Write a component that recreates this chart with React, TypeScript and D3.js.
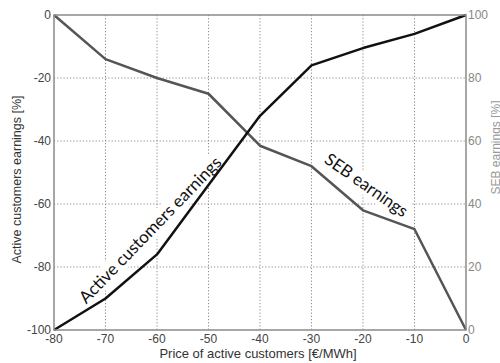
import React, { useEffect, useRef } from 'react';
import * as d3 from 'd3';

// x categories: price of active customers [€/MWh]
const prices = [-80, -70, -60, -50, -40, -30, -20, -10, 0];
// left axis: active customers earnings [%]
const activeEarnings = [-100, -90, -76, -54, -32, -16, -10.5, -6, 0];
// right axis: SEB earnings [%]
const sebEarnings = [100, 86, 80, 75, 58.5, 52, 38, 32, 0];

const xTicks = [-80, -70, -60, -50, -40, -30, -20, -10, 0];
const leftTicks = [0, -20, -40, -60, -80, -100];
const rightTicks = [100, 80, 60, 40, 20, 0];

const W = 500;
const H = 363;
const margin = { top: 15, right: 34, bottom: 33, left: 54 };

const App = () => {
  const ref = useRef<SVGSVGElement>(null);

  useEffect(() => {
    const svg = d3.select(ref.current);
    svg.selectAll('*').remove();

    const x = d3.scaleLinear().domain([-80, 0]).range([margin.left, W - margin.right]);
    const yL = d3.scaleLinear().domain([-100, 0]).range([H - margin.bottom, margin.top]);
    const yR = d3.scaleLinear().domain([0, 100]).range([H - margin.bottom, margin.top]);

    const axisFont = "'Liberation Sans', Arial, sans-serif";
    const frame = '#8a8a8a';

    svg.append('rect').attr('width', W).attr('height', H).attr('fill', '#fff');

    // grid
    const grid = svg.append('g').attr('stroke', '#8c8c8c').attr('stroke-width', 1)
      .attr('stroke-dasharray', '1.2,2');
    grid.selectAll('line.v')
      .data(xTicks.slice(1, -1))
      .enter().append('line')
      .attr('x1', (d) => x(d)).attr('x2', (d) => x(d))
      .attr('y1', yL(0)).attr('y2', yL(-100));
    grid.selectAll('line.h')
      .data(leftTicks.slice(1, -1))
      .enter().append('line')
      .attr('x1', x(-80)).attr('x2', x(0))
      .attr('y1', (d) => yL(d)).attr('y2', (d) => yL(d));

    // label backgrounds + labels (drawn before lines so lines stay on top)
    const labelFont = "Lato, 'Open Sans', sans-serif";
    const labels = [
      { text: 'Active customers earnings', px: -60.5, py: yL(-69.5), angle: -46 },
      { text: 'SEB earnings', px: -20, py: yR(44.5), angle: 35 },
    ];
    labels.forEach((l) => {
      const g = svg.append('g')
        .attr('transform', `translate(${x(l.px)},${l.py}) rotate(${l.angle})`);
      const bg = g.append('rect').attr('fill', '#fff');
      const t = g.append('text')
        .attr('text-anchor', 'middle')
        .attr('font-family', labelFont)
        .attr('font-size', 17)
        .attr('fill', '#111')
        .text(l.text);
      const b = (t.node() as SVGTextElement).getBBox();
      bg.attr('x', b.x - 2).attr('y', b.y + 1).attr('width', b.width + 4).attr('height', b.height - 1);
    });

    // lines
    const lineL = d3.line<number>().x((_, i) => x(prices[i])).y((d) => yL(d));
    const lineR = d3.line<number>().x((_, i) => x(prices[i])).y((d) => yR(d));

    svg.append('path')
      .attr('d', lineR(sebEarnings))
      .attr('fill', 'none')
      .attr('stroke', '#555')
      .attr('stroke-width', 2.5)
      .attr('stroke-linejoin', 'round');
    svg.append('path')
      .attr('d', lineL(activeEarnings))
      .attr('fill', 'none')
      .attr('stroke', '#111')
      .attr('stroke-width', 2.5)
      .attr('stroke-linejoin', 'round');

    // frame
    svg.append('rect')
      .attr('x', x(-80)).attr('y', yL(0))
      .attr('width', x(0) - x(-80)).attr('height', yL(-100) - yL(0))
      .attr('fill', 'none').attr('stroke', frame).attr('stroke-width', 1.5);

    // tick labels
    svg.append('g').selectAll('text')
      .data(leftTicks).enter().append('text')
      .attr('x', x(-80) - 3).attr('y', (d) => yL(d))
      .attr('dy', '0.35em')
      .attr('text-anchor', 'end')
      .attr('font-family', axisFont).attr('font-size', 12)
      .attr('fill', '#444')
      .text((d) => d);

    svg.append('g').selectAll('text')
      .data(rightTicks).enter().append('text')
      .attr('x', x(0) + 2).attr('y', (d) => yR(d))
      .attr('dy', '0.35em')
      .attr('text-anchor', 'start')
      .attr('font-family', axisFont).attr('font-size', 12)
      .attr('fill', '#888')
      .text((d) => d);

    svg.append('g').selectAll('text')
      .data(xTicks).enter().append('text')
      .attr('x', (d) => x(d)).attr('y', yL(-100) + 13)
      .attr('text-anchor', 'middle')
      .attr('font-family', axisFont).attr('font-size', 12)
      .attr('fill', '#444')
      .text((d) => d);

    // axis titles
    svg.append('text')
      .attr('transform', `translate(21,${(yL(0) + yL(-100)) / 2 + 7}) rotate(-90)`)
      .attr('text-anchor', 'middle')
      .attr('font-family', axisFont).attr('font-size', 12.5)
      .attr('fill', '#333')
      .text('Active customers earnings [%]');

    svg.append('text')
      .attr('transform', `translate(500,${(yR(0) + yR(100)) / 2 - 25}) rotate(-90)`)
      .attr('text-anchor', 'middle')
      .attr('font-family', axisFont).attr('font-size', 12)
      .attr('fill', '#999')
      .text('SEB earnings [%]');

    svg.append('text')
      .attr('x', (x(-80) + x(0)) / 2 - 2).attr('y', 358)
      .attr('text-anchor', 'middle')
      .attr('font-family', axisFont).attr('font-size', 13)
      .attr('fill', '#333')
      .text('Price of active customers [€/MWh]');
  }, []);

  return (
    <svg ref={ref} width={W} height={H}
      style={{ position: 'absolute', left: 0, top: 0, display: 'block' }} />
  );
};

export default App;
